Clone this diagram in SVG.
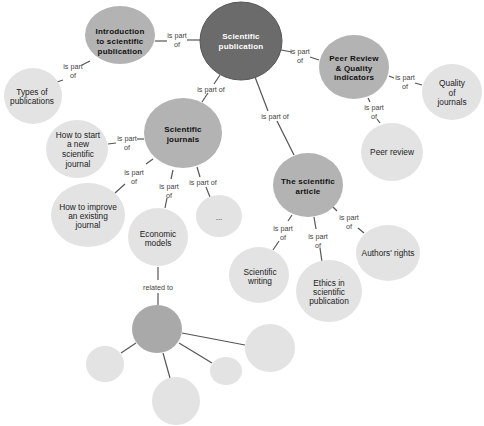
<svg xmlns="http://www.w3.org/2000/svg" width="484" height="426" viewBox="0 0 484 426">
<style>
.bg{fill:#ffffff}
.dark{fill:#6b6b6b;stroke:#555;stroke-width:1}
.mid{fill:#b3b3b3}
.light{fill:#e3e3e3}
.mid2{fill:#a9a9a9}
.c line{stroke:#555;stroke-width:1.2}
.lb{font-family:"Liberation Sans",Arial,sans-serif;font-size:7.2px;fill:#444;text-anchor:middle}
.b{font-family:"Liberation Sans",Arial,sans-serif;font-weight:bold;font-size:8px;letter-spacing:0.2px;fill:#111;text-anchor:middle}
.w{fill:#fff}
.t{font-family:"Liberation Sans",Arial,sans-serif;font-size:8.3px;fill:#222;text-anchor:middle}
</style>
<rect class="bg" width="484" height="426"/>
<g class="c" id="connectors">
<line x1="155" y1="41" x2="167" y2="41"/><line x1="187" y1="40" x2="200" y2="40"/>
<line x1="90" y1="61" x2="82" y2="65"/><line x1="63" y1="80" x2="57" y2="82"/>
<line x1="220" y1="75" x2="214" y2="84"/><line x1="208" y1="93" x2="202" y2="102"/>
<line x1="281" y1="50" x2="292" y2="52"/><line x1="310" y1="57" x2="319" y2="60"/>
<line x1="389" y1="76" x2="394" y2="78"/><line x1="415" y1="83" x2="422" y2="85"/>
<line x1="368" y1="98" x2="370" y2="102"/><line x1="377" y1="119" x2="380" y2="123"/>
<line x1="255" y1="77" x2="268" y2="111"/><line x1="277" y1="121" x2="294" y2="155"/>
<line x1="108" y1="144" x2="116" y2="143"/><line x1="137" y1="139" x2="144" y2="139"/>
<line x1="153" y1="159" x2="146" y2="164"/><line x1="125" y1="184" x2="115" y2="193"/>
<line x1="173" y1="170" x2="171" y2="179"/><line x1="167" y1="198" x2="165" y2="208"/>
<line x1="197" y1="167" x2="200" y2="177"/><line x1="206" y1="187" x2="210" y2="197"/>
<line x1="292" y1="215" x2="288" y2="221"/><line x1="279" y1="241" x2="273" y2="250"/>
<line x1="314" y1="217" x2="316" y2="229"/><line x1="320" y1="248" x2="322" y2="262"/>
<line x1="333" y1="207" x2="337" y2="211"/><line x1="358" y1="228" x2="364" y2="233"/>
<line x1="158" y1="267" x2="158" y2="280"/><line x1="158" y1="293" x2="158" y2="305"/>
<line x1="121" y1="353" x2="136" y2="343"/>
<line x1="163" y1="353" x2="170" y2="378"/>
<line x1="179" y1="343" x2="212" y2="363"/>
<line x1="182" y1="333" x2="245" y2="345"/>
</g>
<g id="labels">
<text class="lb" x="177" y="38">is part</text><text class="lb" x="177" y="46.5">of</text>
<text class="lb" x="73" y="69">is part</text><text class="lb" x="73" y="77.5">of</text>
<text class="lb" x="211" y="92">is part of</text>
<text class="lb" x="300" y="54">is part</text><text class="lb" x="300" y="62.5">of</text>
<text class="lb" x="405" y="80">is part</text><text class="lb" x="405" y="88.5">of</text>
<text class="lb" x="374" y="110">is part</text><text class="lb" x="374" y="118.5">of</text>
<text class="lb" x="275" y="119">is part of</text>
<text class="lb" x="127" y="141">is part</text><text class="lb" x="127" y="149.5">of</text>
<text class="lb" x="134" y="175">is part</text><text class="lb" x="134" y="183.5">of</text>
<text class="lb" x="169" y="189">is part</text><text class="lb" x="169" y="197.5">of</text>
<text class="lb" x="203" y="185">is part of</text>
<text class="lb" x="283" y="231">is part</text><text class="lb" x="283" y="239.5">of</text>
<text class="lb" x="318" y="239">is part</text><text class="lb" x="318" y="247.5">of</text>
<text class="lb" x="349" y="220">is part</text><text class="lb" x="349" y="228.5">of</text>
<text class="lb" x="158" y="290">related to</text>
</g>
<g id="sci-pub"><ellipse class="dark" cx="241" cy="41" rx="41" ry="39"/>
<text class="b w" x="241" y="39">Scientific</text><text class="b w" x="241" y="49">publication</text></g>
<g id="intro"><ellipse class="mid" cx="120" cy="35" rx="35" ry="29"/>
<text class="b" x="120" y="34">Introduction</text><text class="b" x="120" y="44">to scientific</text><text class="b" x="120" y="54">publication</text></g>
<g id="types"><ellipse class="light" cx="33" cy="96" rx="29" ry="28"/>
<text class="t" x="32" y="95">Types of</text><text class="t" x="32" y="104">publications</text></g>
<g id="peer-quality"><ellipse class="mid" cx="354" cy="67" rx="35" ry="32"/>
<text class="b" x="354" y="61">Peer Review</text><text class="b" x="354" y="71">&amp; Quality</text><text class="b" x="354" y="80">indicators</text></g>
<g id="quality-journals"><ellipse class="light" cx="452" cy="92" rx="30" ry="28"/>
<text class="t" x="452" y="86">Quality</text><text class="t" x="452" y="96">of</text><text class="t" x="452" y="105">journals</text></g>
<g id="peer-review"><ellipse class="light" cx="392" cy="152" rx="31" ry="29"/>
<text class="t" x="392" y="155">Peer review</text></g>
<g id="sci-journals"><ellipse class="mid" cx="183" cy="133" rx="39" ry="35"/>
<text class="b" x="183" y="132">Scientific</text><text class="b" x="183" y="142">journals</text></g>
<g id="how-start"><ellipse class="light" cx="77" cy="149" rx="31" ry="29"/>
<text class="t" x="78" y="138">How to start</text><text class="t" x="78" y="147">a new</text><text class="t" x="78" y="157">scientific</text><text class="t" x="78" y="167">journal</text></g>
<g id="how-improve"><ellipse class="light" cx="88" cy="215" rx="37" ry="32"/>
<text class="t" x="88" y="210">How to improve</text><text class="t" x="88" y="219">an existing</text><text class="t" x="88" y="228">journal</text></g>
<g id="economic"><ellipse class="light" cx="158" cy="237" rx="30" ry="29"/>
<text class="t" x="158" y="237">Economic</text><text class="t" x="158" y="246">models</text></g>
<g id="dots"><ellipse class="light" cx="219" cy="216" rx="23" ry="21"/>
<text class="t" x="219" y="220" style="font-size:8px">...</text></g>
<g id="sci-article"><ellipse class="mid" cx="308" cy="185" rx="35" ry="32"/>
<text class="b" x="308" y="184">The scientific</text><text class="b" x="308" y="194">article</text></g>
<g id="sci-writing"><ellipse class="light" cx="259" cy="275" rx="30" ry="28"/>
<text class="t" x="260" y="275">Scientific</text><text class="t" x="260" y="284">writing</text></g>
<g id="ethics"><ellipse class="light" cx="329" cy="291" rx="33" ry="31"/>
<text class="t" x="329" y="286">Ethics in</text><text class="t" x="329" y="295">scientific</text><text class="t" x="329" y="304">publication</text></g>
<g id="authors"><ellipse class="light" cx="388" cy="253" rx="32" ry="28"/>
<text class="t" x="388" y="256">Authors' rights</text></g>
<g id="hub"><ellipse class="mid2" cx="157" cy="329" rx="25" ry="24"/></g>
<g id="leaf1"><ellipse class="light" cx="105" cy="364" rx="19" ry="18"/></g>
<g id="leaf2"><ellipse class="light" cx="176" cy="401" rx="24" ry="24"/></g>
<g id="leaf3"><ellipse class="light" cx="226" cy="371" rx="16" ry="14"/></g>
<g id="leaf4"><ellipse class="light" cx="270" cy="348" rx="25" ry="24"/></g>
</svg>
